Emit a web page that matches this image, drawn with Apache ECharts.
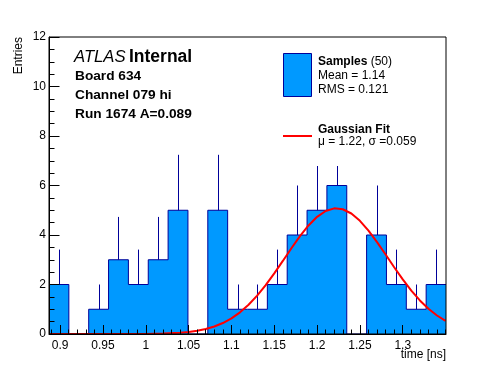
<!DOCTYPE html>
<html><head><meta charset="utf-8">
<script src="https://cdn.jsdelivr.net/npm/echarts@6.0.0/dist/echarts.min.js"></script>
<style>html,body{margin:0;padding:0;background:#fff}#c{width:496px;height:372px}</style>
</head><body><div id="c"></div>
<script>
// ---- data ----
const binCounts = [2, 0, 1, 3, 2, 3, 5, 0, 5, 1, 1, 2, 4, 5, 6, 0, 4, 2, 1, 2];
const binErrUp  = [1.41, 0, 1, 1.73, 1.41, 1.73, 2.24, 0, 2.24, 1, 1, 1.41, 2, 2.24, 2.45, 0, 2, 1.41, 1, 1.41];
const fitT   = [0.887, 0.90, 0.92, 0.94, 0.96, 0.98, 1.00, 1.02, 1.04, 1.05, 1.06, 1.07, 1.08, 1.09, 1.10, 1.11, 1.12, 1.13, 1.14, 1.15, 1.16, 1.17, 1.18, 1.19, 1.20, 1.21, 1.22, 1.23, 1.24, 1.25, 1.26, 1.27, 1.28, 1.29, 1.30, 1.31, 1.32, 1.33, 1.34, 1.35, 1.3505];
const fitVal = [0, 0, 0, 0.001, 0.0004, 0.0014, 0.005, 0.017, 0.050, 0.081, 0.130, 0.201, 0.303, 0.444, 0.632, 0.876, 1.181, 1.548, 1.974, 2.448, 2.952, 3.464, 3.953, 4.386, 4.735, 4.971, 5.076, 5.040, 4.869, 4.574, 4.179, 3.713, 3.210, 2.698, 2.206, 1.754, 1.357, 1.021, 0.747, 0.531, 0.52];
const xTickValues = [0.9, 0.95, 1.0, 1.05, 1.1, 1.15, 1.2, 1.25, 1.3];
const yTickValues = [0, 2, 4, 6, 8, 10, 12];
const xMin = 0.887, xMax = 1.3505;

const FONT = "'Liberation Sans', Arial, Helvetica, sans-serif";
const nBins = binCounts.length;
const binW = (xMax - xMin) / nBins;
const stepData = binCounts.map((v, i) => [xMin + i * binW, v]);
stepData.push([xMax, binCounts[nBins - 1]]);
const errData = binCounts.map((v, i) => [xMin + (i + 0.5) * binW, v, v + binErrUp[i]]).filter(d => d[2] > d[1]);
const fitData = fitT.map((t, i) => [t, fitVal[i]]);
const minorX = [];
for (let k = 89; k <= 135; k++) minorX.push(k / 100);

const chart = echarts.init(document.getElementById('c'), null, {renderer: 'canvas'});
chart.setOption({
  animation: false,
  backgroundColor: '#fff',
  grid: {left: 49, top: 37, right: 50, bottom: 38, show: true, borderColor: '#000', borderWidth: 1, backgroundColor: 'transparent', z: 10},
  xAxis: [{
    type: 'value', min: xMin, max: xMax, position: 'bottom', z: 10,
    axisLine: {show: true, onZero: false, lineStyle: {color: '#000', width: 1}},
    axisTick: {show: true, inside: true, length: 9, customValues: xTickValues, lineStyle: {color: '#000'}},
    axisLabel: {show: true, customValues: xTickValues, color: '#000', fontSize: 12, fontFamily: FONT, margin: 6},
    splitLine: {show: false}
  }, {
    type: 'value', min: xMin, max: xMax, position: 'bottom', z: 10,
    axisLine: {show: false},
    axisTick: {show: true, inside: true, length: 4.5, customValues: minorX, lineStyle: {color: '#000'}},
    axisLabel: {show: false},
    splitLine: {show: false}
  }],
  yAxis: {
    type: 'value', min: 0, max: 12, interval: 2, z: 10,
    axisLine: {show: true, lineStyle: {color: '#000', width: 1}},
    axisTick: {show: true, inside: true, length: 10.5, lineStyle: {color: '#000'}},
    minorTick: {show: true, splitNumber: 4, length: 5.5, lineStyle: {color: '#000'}},
    axisLabel: {color: '#000', fontSize: 12, fontFamily: FONT, margin: 3},
    splitLine: {show: false}
  },
  series: [{
    type: 'line', step: 'end', data: stepData, symbol: 'none', z: 2,
    lineStyle: {color: '#000099', width: 1},
    areaStyle: {color: '#0099ff', opacity: 1}
  }, {
    type: 'custom', data: errData, z: 3, encode: {x: 0, y: [1, 2]},
    renderItem: function (params, api) {
      const p1 = api.coord([api.value(0), api.value(1)]);
      const p2 = api.coord([api.value(0), api.value(2)]);
      const x = Math.round(p1[0]) + 0.5;
      return {type: 'line', shape: {x1: x, y1: p1[1], x2: x, y2: p2[1]}, style: {stroke: '#000099', lineWidth: 1}};
    }
  }, {
    type: 'line', data: fitData, symbol: 'none', z: 4, smooth: false,
    lineStyle: {color: '#ff0000', width: 2}
  }],
  graphic: [
    {type: 'rect', z: 20, shape: {x: 270, y: 38, width: 175, height: 128}, style: {fill: '#fff'}},
    {type: 'rect', z: 21, shape: {x: 283.5, y: 53.5, width: 28, height: 43}, style: {fill: '#0099ff', stroke: '#000099', lineWidth: 1}},
    {type: 'line', z: 21, shape: {x1: 283, y1: 136, x2: 312, y2: 136}, style: {stroke: '#ff0000', lineWidth: 2}},
    {type: 'text', z: 21, x: 318, y: 61.5, style: {text: '{b|Samples} (50)', font: '12px ' + FONT, fill: '#000', verticalAlign: 'middle',
      rich: {b: {fontWeight: 'bold', fontSize: 12, fontFamily: FONT}}}},
    {type: 'text', z: 21, x: 318, y: 76, style: {text: 'Mean = 1.14', font: '12px ' + FONT, fill: '#000', verticalAlign: 'middle'}},
    {type: 'text', z: 21, x: 318, y: 90, style: {text: 'RMS = 0.121', font: '12px ' + FONT, fill: '#000', verticalAlign: 'middle'}},
    {type: 'text', z: 21, x: 318, y: 129.5, style: {text: 'Gaussian Fit', font: 'bold 12px ' + FONT, fill: '#000', verticalAlign: 'middle'}},
    {type: 'text', z: 21, x: 318, y: 141.5, style: {text: 'μ = 1.22, σ =0.059', font: '12px ' + FONT, fill: '#000', verticalAlign: 'middle'}},
    {type: 'text', z: 21, x: 74, y: 57.5, style: {text: '{a|ATLAS} {b|Internal}', fill: '#000', verticalAlign: 'middle',
      rich: {a: {fontStyle: 'italic', fontSize: 16.7, fontFamily: FONT}, b: {fontWeight: 'bold', fontSize: 17.5, fontFamily: FONT}}}},
    {type: 'text', z: 21, x: 75, y: 76.5, style: {text: 'Board 634', font: 'bold 13.7px ' + FONT, fill: '#000', verticalAlign: 'middle'}},
    {type: 'text', z: 21, x: 75, y: 95.5, style: {text: 'Channel 079 hi', font: 'bold 13.7px ' + FONT, fill: '#000', verticalAlign: 'middle'}},
    {type: 'text', z: 21, x: 75, y: 114.5, style: {text: 'Run 1674 A=0.089', font: 'bold 13.7px ' + FONT, fill: '#000', verticalAlign: 'middle'}},
    {type: 'text', z: 21, x: 446, y: 355, style: {text: 'time [ns]', font: '12px ' + FONT, fill: '#000', align: 'right', verticalAlign: 'middle'}},
    {type: 'text', z: 21, x: 19, y: 37, rotation: Math.PI / 2, style: {text: 'Entries', font: '12px ' + FONT, fill: '#000', align: 'right', verticalAlign: 'middle'}}
  ]
});
</script>
</body></html>
